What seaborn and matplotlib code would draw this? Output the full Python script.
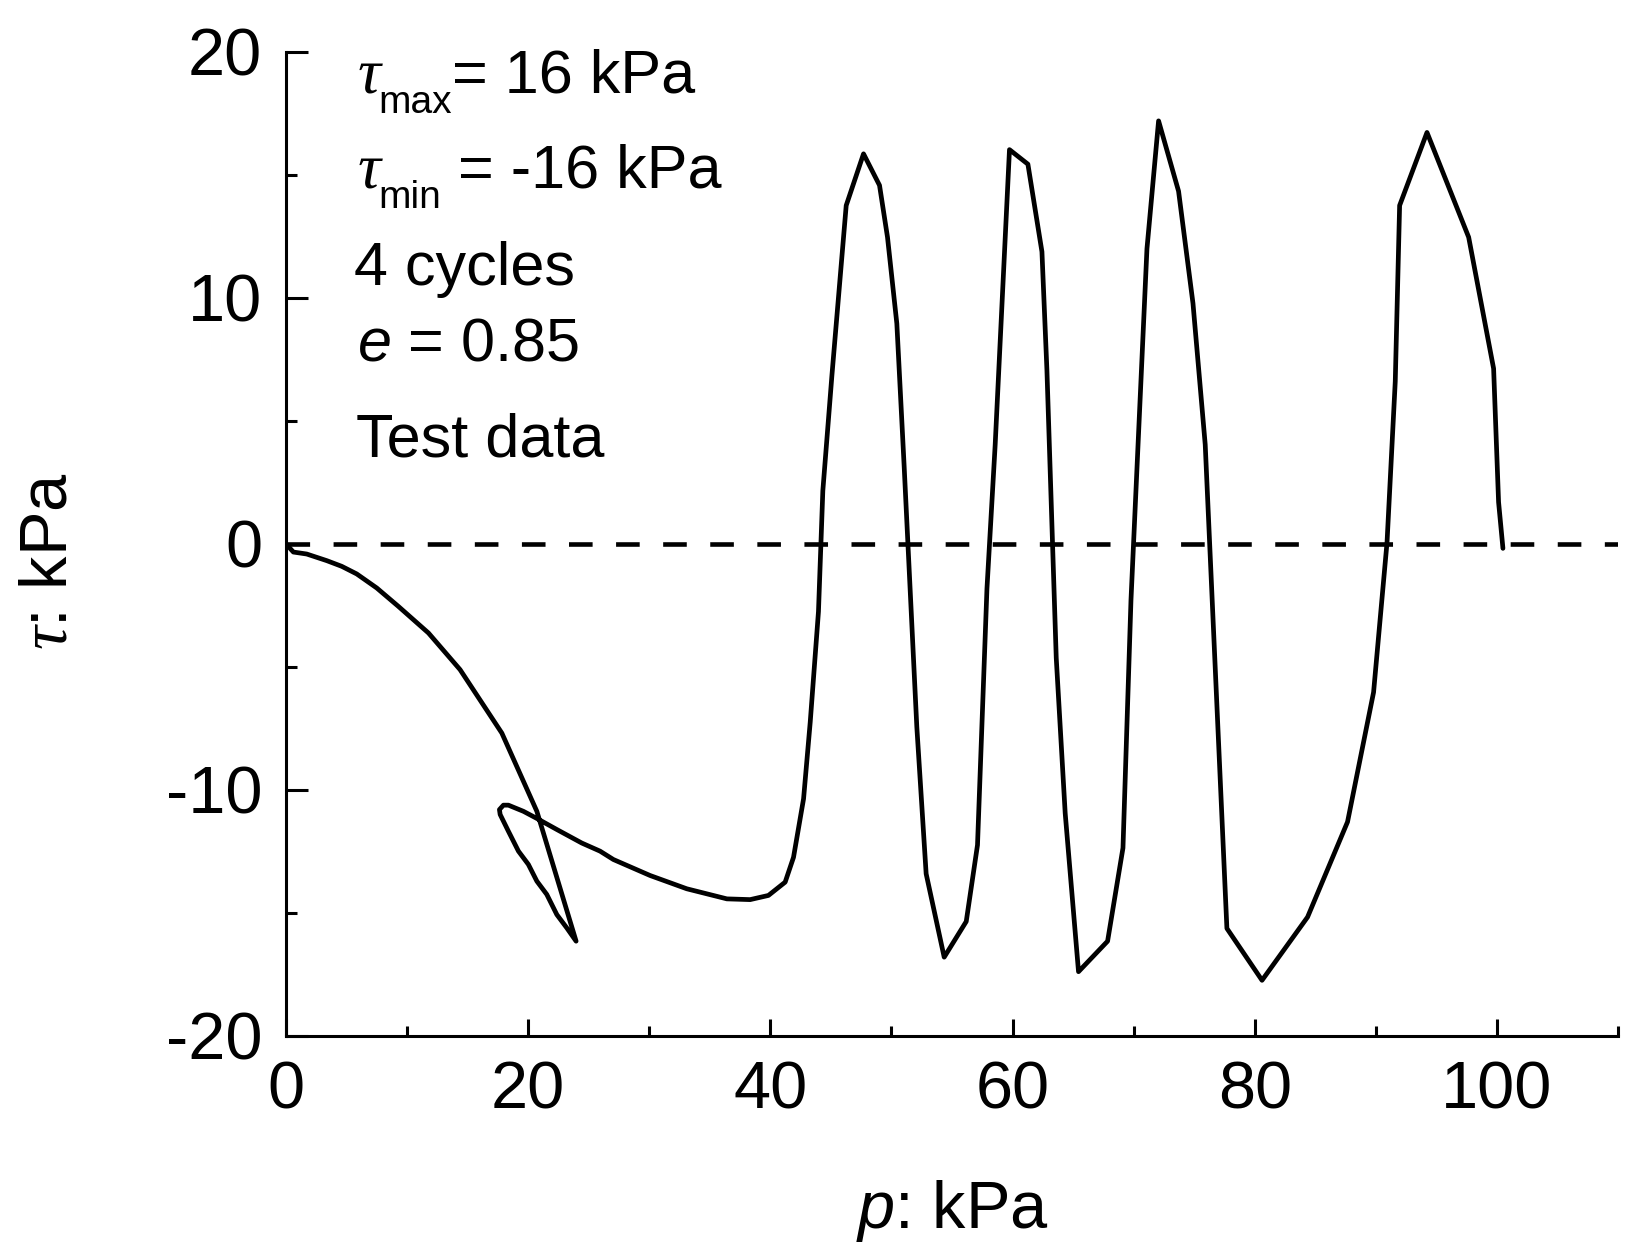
import matplotlib
matplotlib.use("Agg")
import matplotlib.pyplot as plt
import pandas as pd
import seaborn as sns
from matplotlib.ticker import MultipleLocator

# Stress path of the cyclic test: mean effective stress p and shear stress tau (kPa)
p_kpa = [
    0.00, 0.63, 1.73, 3.39, 4.62, 5.86, 7.51, 9.30, 11.78, 14.39, 17.84, 20.73, 23.97,
    23.20, 22.38, 21.55, 20.73, 20.03, 19.21, 18.38, 17.70, 17.64, 17.97, 18.38, 19.62,
    20.73, 22.38, 24.44, 25.95, 27.05, 30.08, 33.11, 36.42, 38.34, 39.85, 41.23, 41.92,
    42.75, 43.30, 43.98, 44.34, 45.09, 46.27, 47.70, 49.02, 49.68, 50.45, 51.06, 52.10,
    52.87, 54.36, 56.18, 57.11, 57.89, 58.57, 59.75, 61.27, 62.43, 62.84, 63.61, 64.35,
    65.45, 67.85, 69.12, 69.78, 71.10, 72.06, 73.71, 74.90, 75.91, 77.70, 80.60, 84.36,
    87.66, 89.81, 90.92, 91.60, 91.96, 94.22, 97.66, 99.72, 100.13, 100.49,
]
tau_kpa = [
    0.00, -0.34, -0.42, -0.69, -0.92, -1.23, -1.80, -2.55, -3.63, -5.12, -7.70, -10.88, -16.16,
    -15.62, -15.08, -14.26, -13.72, -13.04, -12.50, -11.69, -11.01, -10.81, -10.63, -10.63, -10.88,
    -11.17, -11.62, -12.17, -12.50, -12.84, -13.49, -14.03, -14.44, -14.47, -14.30, -13.76, -12.75,
    -10.37, -7.25, -2.76, 2.15, 6.84, 13.75, 15.85, 14.57, 12.46, 8.95, 3.09, -7.45,
    -13.42, -16.81, -15.36, -12.25, -1.83, 4.03, 16.02, 15.43, 11.87, 7.07, -4.64, -10.96,
    -17.40, -16.16, -12.37, -2.30, 11.99, 17.19, 14.33, 9.77, 4.03, -15.64, -17.75, -15.18,
    -11.31, -6.04, 0.05, 6.60, 13.75, 16.72, 12.46, 7.12, 1.69, -0.19,
]

# Loading limits: symbol subscript and the rest of the line
limit_subs = ["max", "min"]
limit_rest = ["= 16 kPa", " = -16 kPa"]
limit_p = [5.95, 5.95]
limit_tau = [18.35, 14.50]

# Remaining test conditions: (text, p position, tau baseline)
note_texts = ["4 cycles", r"$e$ = 0.85", "Test data"]
note_p = [5.65, 5.90, 5.80]
note_tau = [10.53, 7.44, 3.55]

x_label = r"$p$: kPa"
y_label = r"$\mathsf{\tau}$: kPa"

sns.set_style("ticks")
plt.rcParams.update({
    "font.family": ["Liberation Sans", "DejaVu Sans"],
    "mathtext.fontset": "custom",
    "mathtext.rm": "Liberation Sans",
    "mathtext.it": "Liberation Sans:italic",
    "mathtext.sf": "Liberation Serif:italic",
    "axes.linewidth": 2.2,
    "axes.edgecolor": "black",
    "axes.labelcolor": "black",
    "text.color": "black",
    "axes.unicode_minus": False,
    "lines.scale_dashes": False,
    "xtick.color": "black",
    "ytick.color": "black",
})

fig = plt.figure(figsize=(16.32, 12.47), dpi=100)
ax = fig.add_axes([0.1751, 0.1695, 0.8164, 0.7890])

df = pd.DataFrame({"p": p_kpa, "tau": tau_kpa})
sns.lineplot(data=df, x="p", y="tau", sort=False, estimator=None,
             color="black", linewidth=3.4, ax=ax)
ax.axhline(0, color="black", linewidth=3.3, dashes=(17.0, 16.9))

ax.set_xlim(0, 110)
ax.set_ylim(-20, 20)
ax.xaxis.set_major_locator(MultipleLocator(20))
ax.xaxis.set_minor_locator(MultipleLocator(10))
ax.yaxis.set_major_locator(MultipleLocator(10))
ax.yaxis.set_minor_locator(MultipleLocator(5))
ax.tick_params(axis="both", which="both", direction="in", width=2.2, labelsize=48)
ax.tick_params(axis="x", which="major", length=12, pad=18)
ax.tick_params(axis="x", which="minor", length=7)
ax.tick_params(axis="y", which="major", length=16, pad=17)
ax.tick_params(axis="y", which="minor", length=8)
sns.despine(ax=ax)

# tau_max / tau_min lines: italic serif tau, lowered subscript, then the value
for sub, rest, px, ty in zip(limit_subs, limit_rest, limit_p, limit_tau):
    sym = ax.text(px, ty, "\u03c4", fontsize=46, family="Liberation Serif",
                  style="italic", va="baseline", ha="left")
    sub_txt = ax.annotate(sub, xy=(1, ty), xycoords=(sym, "data"),
                          xytext=(-2, -15), textcoords="offset points",
                          fontsize=28, va="baseline", ha="left")
    ax.annotate(rest, xy=(1, ty), xycoords=(sub_txt, "data"),
                xytext=(0, 0), textcoords="offset points",
                fontsize=44, va="baseline", ha="left")

for txt, px, ty in zip(note_texts, note_p, note_tau):
    ax.text(px, ty, txt, fontsize=44, va="baseline", ha="left")

ax.set_xlabel(x_label, fontsize=48)
ax.set_ylabel(y_label, fontsize=48)
ax.xaxis.set_label_coords(0.5, -0.145)
ax.yaxis.set_label_coords(-0.154, 0.482)

fig.savefig("out.png", dpi=100, facecolor="white")
